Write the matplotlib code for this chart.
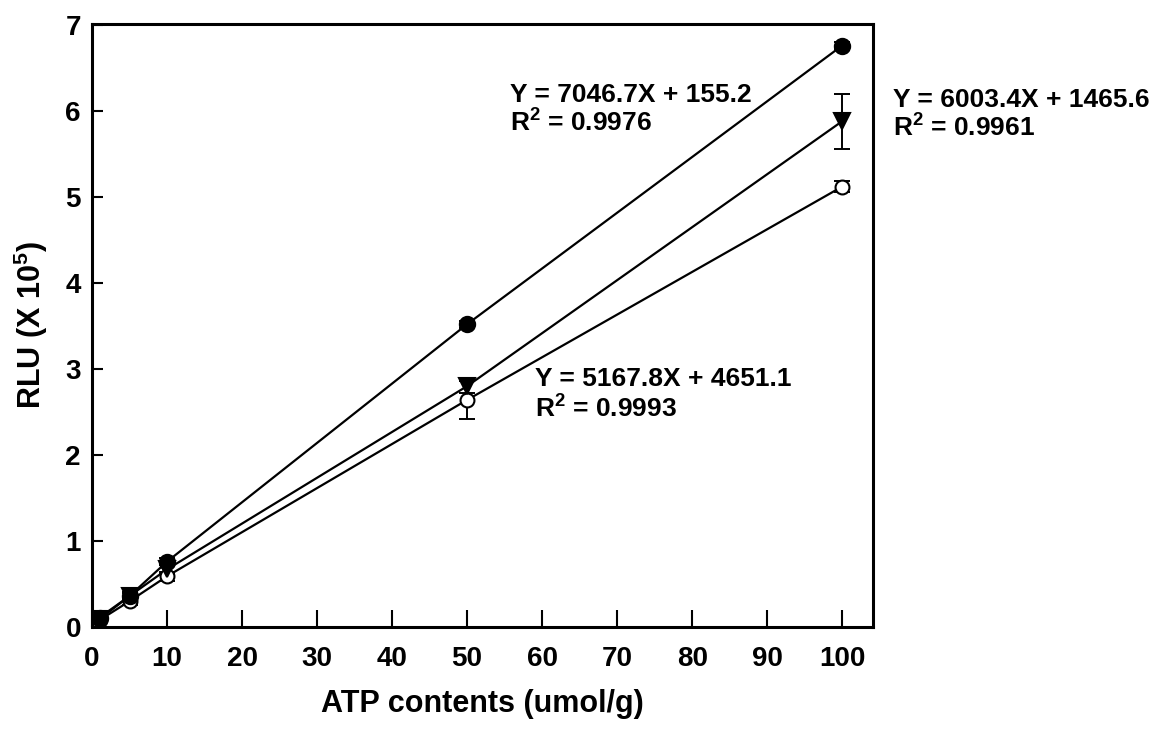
import matplotlib
matplotlib.use("Agg")
import matplotlib.pyplot as plt

plt.rcParams["font.family"] = ["Liberation Sans", "DejaVu Sans"]
plt.rcParams["font.weight"] = "bold"
plt.rcParams["mathtext.fontset"] = "custom"
plt.rcParams["mathtext.rm"] = "Liberation Sans:bold"
plt.rcParams["mathtext.it"] = "Liberation Sans:bold"
plt.rcParams["mathtext.bf"] = "Liberation Sans:bold"

# ATP concentration (umol/g)
atp = [1, 5, 10, 50, 100]

# RLU readings (x 10^5) for the three series
rlu_filled = [0.11, 0.36, 0.76, 3.52, 6.76]
err_filled = [0.02, 0.03, 0.04, 0.04, 0.04]

rlu_triangle = [0.09, 0.36, 0.67, 2.80, 5.88]
err_triangle = [0.02, 0.05, 0.05, 0.08, 0.32]

rlu_open = [0.08, 0.30, 0.59, 2.64, 5.12]
err_open = [0.02, 0.05, 0.05, 0.22, 0.06]

eq_filled = ["Y = 7046.7X + 155.2", r"R$^{2}$ = 0.9976"]
eq_triangle = ["Y = 6003.4X + 1465.6", r"R$^{2}$ = 0.9961"]
eq_open = ["Y = 5167.8X + 4651.1", r"R$^{2}$ = 0.9993"]

x_ticks = [0, 10, 20, 30, 40, 50, 60, 70, 80, 90, 100]
y_ticks = [0, 1, 2, 3, 4, 5, 6, 7]

fig = plt.figure(figsize=(11.55, 7.35), dpi=100)
ax = fig.add_axes([92 / 1155, 108 / 735, 781 / 1155, 603 / 735])

for y, e, marker, face, ms in [
    (rlu_open, err_open, "o", "white", 10),
    (rlu_triangle, err_triangle, "v", "black", 11),
    (rlu_filled, err_filled, "o", "black", 11),
]:
    ax.plot(atp, y, color="black", lw=1.6, zorder=2)
    ax.errorbar(atp, y, yerr=e, fmt="none", ecolor="black", elinewidth=1.4,
                capsize=6, capthick=1.4, zorder=3)
    ax.plot(atp, y, linestyle="none", marker=marker, ms=ms,
            markerfacecolor=face, markeredgecolor="black",
            markeredgewidth=1.5, zorder=4)

ax.set_xlim(0, 104.1)
ax.set_ylim(0, 7.01)
ax.set_xticks(x_ticks)
ax.set_yticks(y_ticks)
ax.tick_params(axis="x", direction="in", length=12, width=1.5,
               labelsize=20, pad=14)
ax.tick_params(axis="y", direction="in", length=8, width=1.5,
               labelsize=20, pad=8)
for lab in ax.get_xticklabels() + ax.get_yticklabels():
    lab.set_fontweight("bold")
for sp in ax.spines.values():
    sp.set_linewidth(2.2)

txt = dict(fontsize=19, fontweight="bold", va="baseline", ha="left",
           clip_on=False)
ax.text(55.7, 6.10, eq_filled[0], **txt)
ax.text(55.7, 5.76, eq_filled[1], **txt)
ax.text(106.7, 6.05, eq_triangle[0], **txt)
ax.text(106.7, 5.70, eq_triangle[1], **txt)
ax.text(59.1, 2.80, eq_open[0], **txt)
ax.text(59.1, 2.43, eq_open[1], **txt)

fig.text(482 / 1155, 1 - 704 / 735, "ATP contents (umol/g)", fontsize=22,
         fontweight="bold", ha="center", va="center")
fig.text(31 / 1155, 1 - 325 / 735, r"RLU (X 10$^{5}$)", fontsize=22,
         fontweight="bold", ha="center", va="center", rotation=90)

fig.savefig("out.png", dpi=100)
